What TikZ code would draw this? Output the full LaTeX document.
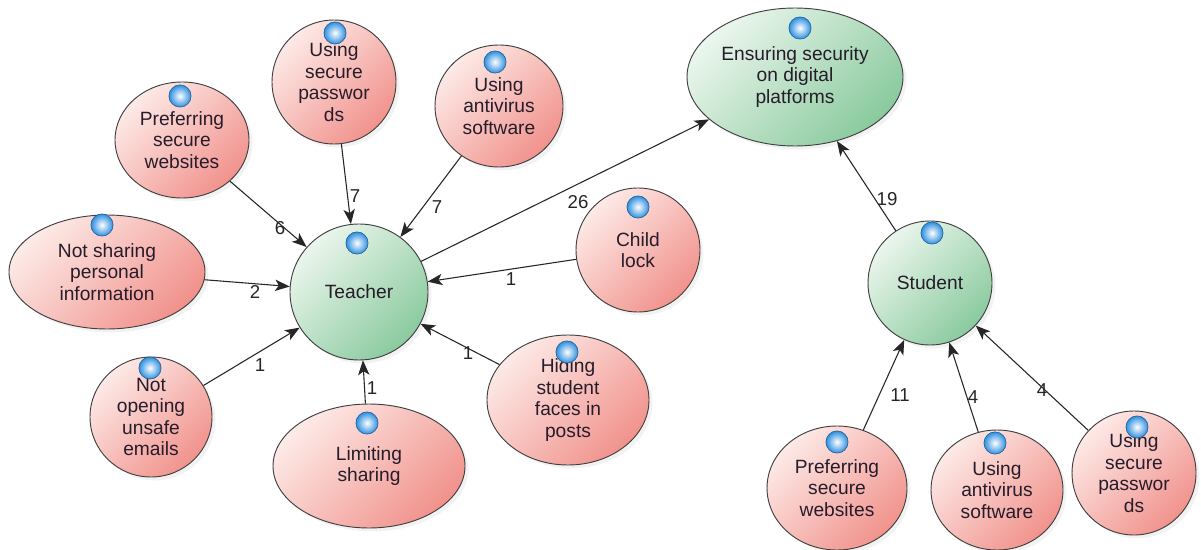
\documentclass[tikz,border=0pt]{standalone}
\usepackage{fontspec}
\setmainfont{Liberation Sans}
\usetikzlibrary{arrows.meta,shapes.geometric,shadows}
\definecolor{redA}{HTML}{FDEAE7}
\definecolor{redB}{HTML}{F1928C}
\definecolor{grnA}{HTML}{EBF6ED}
\definecolor{grnB}{HTML}{8ACA9E}
\definecolor{txtc}{HTML}{261C2A}
\definecolor{iconA}{HTML}{2E8FE0}
\newcommand\bubicon[2]{%
  \shade[inner color=white, outer color=iconA] (#1,#2) circle (8.3pt);
  \draw[iconA!65!black, line width=0.45pt] (#1,#2) circle (8.3pt);}
\begin{document}
\begin{tikzpicture}[x=0.75pt,y=-0.75pt,
  bub/.style 2 args={ellipse, draw=black!75, line width=0.7pt, inner sep=0pt,
    minimum width=#1*1.5pt, minimum height=#2*1.5pt, align=center, text=txtc,
    font=\fontsize{14.4}{16.1}\selectfont,
    drop shadow={opacity=0.10,shadow xshift=2.5pt,shadow yshift=-2.5pt}},
  rbub/.style 2 args={bub={#1}{#2}, left color=redA, right color=redB, shading angle=45},
  gbub/.style 2 args={bub={#1}{#2}, left color=grnA, right color=grnB, shading angle=45},
  edge/.style={draw=black!85, line width=0.8pt, -{Stealth[length=11pt,width=8.5pt,inset=2.8pt]}},
  lbl/.style={text=black!85, font=\fontsize{14}{15}\selectfont, inner sep=0pt}
]
\useasboundingbox (0,0) rectangle (1201,549);
\fill[white] (0,0) rectangle (1201,549);

% nodes
\node[gbub={108}{69}] (ens) at (795,77) {Ensuring security\\on digital\\platforms};
\node[gbub={69}{68}] (tea) at (359,292) {Teacher};
\node[gbub={62}{62}] (stu) at (930,283) {Student};
\node[rbub={67}{58}] (pw1) at (182,140) {Preferring\\secure\\websites};
\node[rbub={62}{62}] (sp1) at (334,82) {Using\\secure\\passwor\\ds};
\node[rbub={64}{61}] (av1) at (499,106) {Using\\antivirus\\software};
\node[rbub={98}{57}] (nsp) at (107,272) {Not sharing\\personal\\information};
\node[rbub={61}{60}] (noe) at (151,417) {Not\\opening\\unsafe\\emails};
\node[rbub={96}{62}] (lim) at (369,466) {Limiting\\sharing};
\node[rbub={81}{65}] (hid) at (568,400) {Hiding\\student\\faces in\\posts};
\node[rbub={62}{62}] (chl) at (638,250) {Child\\lock};
\node[rbub={70}{62}] (pw2) at (837,488) {Preferring\\secure\\websites};
\node[rbub={66}{60}] (av2) at (997,490) {Using\\antivirus\\software};
\node[rbub={62}{62}] (sp2) at (1134,473) {Using\\secure\\passwor\\ds};

% icons
\bubicon{800}{28}
\bubicon{357}{243}
\bubicon{932}{233}
\bubicon{180}{96}
\bubicon{335}{33}
\bubicon{495}{62}
\bubicon{102}{225}
\bubicon{150}{368}
\bubicon{367}{423}
\bubicon{567}{352}
\bubicon{638}{207}
\bubicon{837}{442}
\bubicon{995}{443}
\bubicon{1137}{427}

% edges
\draw[edge] (pw1) -- (tea);
\draw[edge] (sp1) -- (tea);
\draw[edge] (av1) -- (tea);
\draw[edge] (nsp) -- (tea);
\draw[edge] (noe) -- (tea);
\draw[edge] (lim) -- (tea);
\draw[edge] (hid) -- (tea);
\draw[edge] (chl) -- (tea);
\draw[edge] (tea) -- (ens);
\draw[edge] (stu) -- (ens);
\draw[edge] (pw2) -- (stu);
\draw[edge] (av2) -- (stu);
\draw[edge] (sp2) -- (stu);

% labels
\node[lbl] (l1) at (280,228) {6};
\node[lbl] (l2) at (355,196) {7};
\node[lbl] (l3) at (437,207) {7};
\node[lbl] (l4) at (255,292) {2};
\node[lbl] (l5) at (260,365) {1};
\node[lbl] (l6) at (372,388) {1};
\node[lbl] (l7) at (468,353) {1};
\node[lbl] (l8) at (511,279) {1};
\node[lbl] (l9) at (578,202) {26};
\node[lbl] (l10) at (887,199) {19};
\node[lbl] (l11) at (900,395) {11};
\node[lbl] (l12) at (973,397) {4};
\node[lbl] (l13) at (1042,390) {4};
\end{tikzpicture}
\end{document}
